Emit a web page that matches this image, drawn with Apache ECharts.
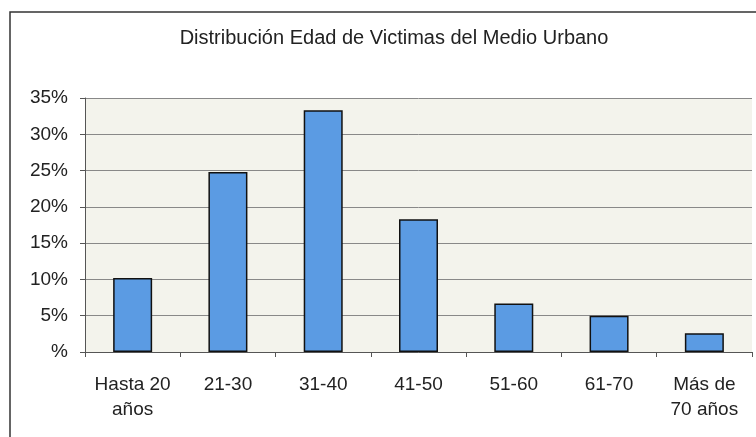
<!DOCTYPE html>
<html>
<head>
<meta charset="utf-8">
<script src="https://cdn.jsdelivr.net/npm/echarts@6/dist/echarts.min.js"></script>
<style>
html, body { margin: 0; padding: 0; background: #fff; }
#main { width: 756px; height: 437px; }
</style>
</head>
<body>
<div id="main"></div>
<script>
var categories = ['Hasta 20\naños', '21-30', '31-40', '41-50', '51-60', '61-70', 'Más de\n70 años'];
var values = [10.2, 24.8, 33.3, 18.3, 6.7, 5.0, 2.6];
var yTicks = [0, 5, 10, 15, 20, 25, 30, 35];

var myChart = echarts.init(document.getElementById('main'));
var option = {
	backgroundColor: '#fff',
	textStyle: { fontFamily: 'Liberation Sans, Arial, sans-serif' },
	title: {
		text: 'Distribución Edad de Victimas del Medio Urbano',
		left: 389,
		top: 23,
		textAlign: 'center',
		textStyle: { fontSize: 20, fontWeight: 'normal', color: '#222' }
	},
	graphic: [{
		type: 'rect',
		shape: { x: 10, y: 12, width: 760, height: 440 },
		style: { fill: 'none', stroke: '#333', lineWidth: 1.5 },
		silent: true
	}],
	grid: {
		left: 85, right: 4, top: 98, bottom: 85,
		show: true,
		backgroundColor: '#f3f3ec',
		borderWidth: 0
	},
	xAxis: {
		type: 'category',
		data: categories,
		axisLine: { lineStyle: { color: '#555' } },
		axisTick: { show: true, length: 5, lineStyle: { color: '#555' } },
		axisLabel: { color: '#222', fontSize: 19, lineHeight: 25, margin: 20, interval: 0 }
	},
	yAxis: {
		type: 'value',
		min: yTicks[0],
		max: yTicks[yTicks.length - 1],
		interval: 5,
		axisLine: { show: true, lineStyle: { color: '#555' } },
		axisTick: { show: true, length: 5, lineStyle: { color: '#555' } },
		splitLine: { lineStyle: { color: '#888', width: 1 } },
		axisLabel: {
			color: '#222', fontSize: 19, margin: 17,
			formatter: function (v) { return v === 0 ? '%' : v + '%'; }
		}
	},
	series: [{
		type: 'bar',
		data: values,
		barWidth: 39,
		itemStyle: { color: '#5b9be3', borderColor: '#111', borderWidth: 1.5 }
	}]
};
myChart.setOption(option);
</script>
</body>
</html>
